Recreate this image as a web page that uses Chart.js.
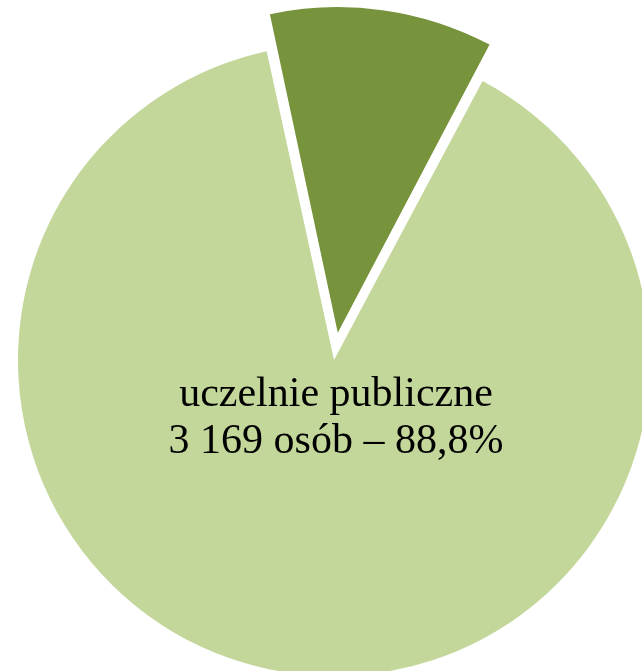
<!DOCTYPE html>
<html>
<head>
<meta charset="utf-8">
<script src="https://cdn.jsdelivr.net/npm/chart.js@4"></script>
<style>
  body { margin: 0; background: #fff; }
  #wrap { width: 642px; height: 671px; position: relative; }
</style>
</head>
<body>
<div id="wrap"><canvas id="myChart"></canvas></div>
<script>
// Pie Chart
var categories = ["uczelnie niepubliczne", "uczelnie publiczne"];
var persons = [400, 3169];
var shares = ["11,2%", "88,8%"];
var sliceColors = ["#77933C", "#C4D79B"];
// chart.js v4 scales arc offset down (~1/3 for this slice size)
var sliceOffsets = [110, 0];

var labelPlugin = {
  id: 'sliceText',
  afterDraw: function(chart) {
    var ctx = chart.ctx;
    var arc = chart.getDatasetMeta(0).data[1];
    var x = arc.x + 2, y = arc.y;
    ctx.save();
    ctx.font = "42px 'Liberation Serif'";
    ctx.fillStyle = "#000";
    ctx.textAlign = "center";
    ctx.textBaseline = "alphabetic";
    ctx.fillText(categories[1], x, y + 46);
    ctx.fillText("3 169 osób – " + shares[1], x, y + 93);
    ctx.restore();
  }
};

new Chart(document.getElementById('myChart'), {
  type: "pie",
  data: {
    labels: categories,
    datasets: [{
      data: persons,
      backgroundColor: sliceColors,
      borderWidth: 0,
      offset: sliceOffsets,
      hoverOffset: 0
    }]
  },
  options: {
    responsive: true,
    maintainAspectRatio: false,
    animation: false,
    rotation: -12.3,
    radius: 316,
    layout: { padding: { left: 26, top: 49, right: 0, bottom: 0 } },
    plugins: {
      legend: { display: false },
      tooltip: { enabled: false }
    }
  },
  plugins: [labelPlugin]
});
</script>
</body>
</html>
